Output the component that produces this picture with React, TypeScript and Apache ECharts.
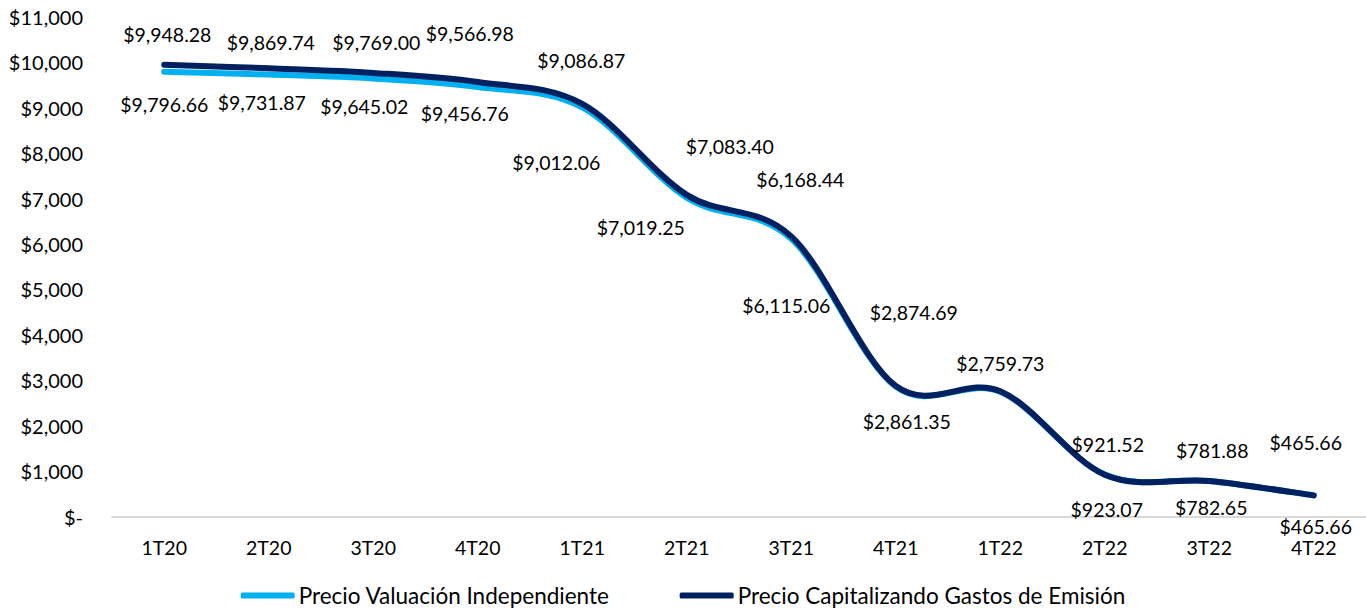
import React, { useEffect, useRef } from "react";
import * as echarts from "echarts";

const categories = ["1T20", "2T20", "3T20", "4T20", "1T21", "2T21", "3T21", "4T21", "1T22", "2T22", "3T22", "4T22"];
const seriesNames = ["Precio Valuación Independiente", "Precio Capitalizando Gastos de Emisión"];
const valuacion = [9796.66, 9731.87, 9645.02, 9456.76, 9012.06, 7019.25, 6115.06, 2861.35, 2746, 923.07, 782.65, 465.66];
const capitalizando = [9948.28, 9869.74, 9769.0, 9566.98, 9086.87, 7083.4, 6168.44, 2874.69, 2759.73, 921.52, 781.88, 465.66];
const valuacionLabelShown = [true, true, true, true, true, true, true, true, false, true, true, true];
const yTicks = { min: 0, max: 11000, interval: 1000 };

// label offsets (pixels) relative to each point
const valuacionOffsets: [number, number][] = [
  [0, 33], [-7, 28], [-9, 28], [-13, 26], [-26, 55], [-46, 30], [-5, 67], [11, 35], [0, 0], [2, 35], [2, 27], [2, 31],
];
const capitalizandoOffsets: [number, number][] = [
  [3, -30], [2, -26], [3, -30], [-8, -49], [-1, -43], [43, -48], [9, -57], [18, -73], [0, -28], [3, -30], [3, -30], [-8, -53],
];

const LIGHT = "#00B0F0";
const NAVY = "#002060";
const FONT = "Lato, 'Open Sans', sans-serif";

const fmtMoney = (v: number) =>
  "$" + v.toLocaleString("en-US", { minimumFractionDigits: 2, maximumFractionDigits: 2 });

// Catmull-Rom style smoothing (like spreadsheet "smoothed line")
function smoothPath(pts: number[][]): string {
  let d = `M${pts[0][0]},${pts[0][1]}`;
  for (let i = 0; i < pts.length - 1; i++) {
    const p0 = pts[Math.max(0, i - 1)];
    const p1 = pts[i];
    const p2 = pts[i + 1];
    const p3 = pts[Math.min(pts.length - 1, i + 2)];
    const c1x = p1[0] + (p2[0] - p0[0]) / 6;
    const c1y = p1[1] + (p2[1] - p0[1]) / 6;
    const c2x = p2[0] - (p3[0] - p1[0]) / 6;
    const c2y = p2[1] - (p3[1] - p1[1]) / 6;
    d += ` C${c1x},${c1y} ${c2x},${c2y} ${p2[0]},${p2[1]}`;
  }
  return d;
}

export default function App() {
  const ref = useRef<HTMLDivElement>(null);
  useEffect(() => {
    if (!ref.current) return;
    const chart = echarts.init(ref.current, undefined, { renderer: "svg" });
    const mk = (vals: number[], offs: [number, number][], shown?: boolean[]) =>
      vals.map((v, i) => ({
        value: v,
        label: { show: shown ? shown[i] : true, offset: offs[i] },
      }));
    const labelCommon = {
      show: true,
      position: "inside" as const,
      align: "center" as const,
      verticalAlign: "middle" as const,
      color: "#000",
      fontFamily: FONT,
      fontSize: 19.5,
      formatter: (p: any) => fmtMoney(p.value),
    };
    const curve = (vals: number[], color: string, z: number) => ({
      type: "custom",
      name: "curve-" + color,
      silent: true,
      z,
      data: vals.map((v, i) => [i, v]),
      encode: { x: 0, y: 1 },
      renderItem: (params: any, api: any) => {
        if (params.dataIndex !== 0) return null;
        const pts = vals.map((v, i) => api.coord([i, v]));
        return {
          type: "path",
          shape: { pathData: smoothPath(pts) },
          style: { stroke: color, fill: "none", lineWidth: 6, lineCap: "round", lineJoin: "round" },
        };
      },
    });
    const labelSeries = (name: string, vals: number[], color: string, offs: [number, number][], shown?: boolean[]) => ({
      name,
      type: "line",
      z: 6,
      symbol: "circle",
      symbolSize: 1,
      showSymbol: true,
      itemStyle: { color },
      lineStyle: { color, width: 0, opacity: 0 },
      label: labelCommon,
      data: mk(vals, offs, shown),
    });
    chart.setOption({
      animation: false,
      backgroundColor: "#fff",
      grid: { left: 112, right: 0, top: 17, bottom: 99.5, containLabel: false },
      legend: {
        bottom: 4,
        left: "center",
        itemWidth: 54,
        itemHeight: 6,
        itemGap: 70,
        icon: "roundRect",
        textStyle: { fontFamily: FONT, fontSize: 22.5, color: "#000", padding: [0, 0, 0, -1] },
        data: seriesNames,
      },
      xAxis: {
        type: "category",
        data: categories,
        boundaryGap: true,
        axisLine: { show: true, lineStyle: { color: "#d9d9d9", width: 2 } },
        axisTick: { show: false },
        axisLabel: { color: "#000", fontFamily: FONT, fontSize: 19.5, margin: 21 },
      },
      yAxis: {
        type: "value",
        min: yTicks.min,
        max: yTicks.max,
        interval: yTicks.interval,
        axisLine: { show: false },
        axisTick: { show: false },
        splitLine: { show: false },
        axisLabel: {
          color: "#000",
          fontFamily: FONT,
          fontSize: 20,
          margin: 29,
          formatter: (v: number) => (v === 0 ? "$-" : "$" + v.toLocaleString("en-US")),
        },
      },
      series: [
        curve(valuacion, LIGHT, 2),
        curve(capitalizando, NAVY, 3),
        labelSeries(seriesNames[0], valuacion, LIGHT, valuacionOffsets, valuacionLabelShown),
        labelSeries(seriesNames[1], capitalizando, NAVY, capitalizandoOffsets),
      ],
    });
    return () => chart.dispose();
  }, []);
  return (
    <div
      ref={ref}
      style={{ position: "fixed", left: 0, top: 0, width: 1366, height: 616, background: "#fff" }}
    />
  );
}
